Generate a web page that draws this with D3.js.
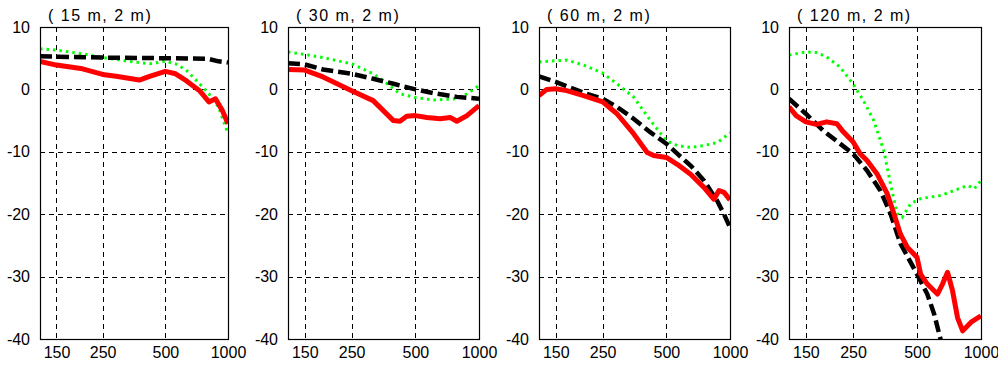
<!DOCTYPE html>
<html><head><meta charset="utf-8">
<script src="https://cdn.jsdelivr.net/npm/d3@7"></script>
<style>
html,body{margin:0;padding:0;background:#fff;}
svg{display:block;}
text{font-family:"Liberation Sans",Arial,sans-serif;font-size:16px;fill:#000;}
</style></head>
<body>
<svg id="c" width="998" height="365"></svg>
<script>
// ---- data ----
const panelTitles = ["( 15 m, 2 m)", "( 30 m, 2 m)", "( 60 m, 2 m)", "( 120 m, 2 m)"];
const xTicks = [150, 250, 500, 1000];
const yTicks = [10, 0, -10, -20, -30, -40];
const xDomain = [125, 1000];
const yDomain = [-40, 10];

// each series: [frequency, value]
const red1 = [[125,4.5],[150,3.9],[200,3.3],[250,2.4],[290,2.1],[375,1.5],[420,2.1],[500,2.9],[560,2.5],[630,1.4],[730,-0.2],[810,-2.0],[870,-1.5],[940,-3.4],[1000,-5.5]];
const black1 = [[125,5.3],[250,5.1],[500,5.0],[800,4.9],[900,4.5],[1000,4.3]];
const green1 = [[125,6.5],[150,6.3],[200,5.7],[250,5.1],[290,4.8],[350,4.4],[420,4.1],[500,4.5],[560,4.1],[630,3.1],[730,0.9],[810,-0.7],[900,-2.8],[1000,-7.1]];

const red2 = [[125,3.2],[150,3.1],[183,2.0],[250,-0.2],[316,-1.8],[394,-5.0],[423,-5.1],[455,-4.3],[500,-4.2],[567,-4.5],[655,-4.7],[731,-4.5],[786,-5.1],[877,-4.2],[1000,-2.6]];
const black2 = [[125,4.2],[150,4.0],[183,3.2],[250,2.5],[316,1.7],[394,0.9],[500,0.0],[609,-0.6],[786,-1.2],[1000,-1.5]];
const green2 = [[125,6.0],[150,5.6],[183,5.1],[250,4.1],[316,2.5],[353,1.4],[423,-0.7],[500,-1.3],[609,-1.7],[786,-1.5],[877,-0.7],[1000,0.6]];

const red3 = [[125,-1.0],[136,0],[150,0.1],[169,-0.2],[203,-1.0],[250,-2.0],[292,-3.9],[350,-7.1],[406,-10.1],[436,-10.6],[500,-10.9],[563,-12.0],[651,-13.6],[753,-15.7],[810,-17.0],[840,-17.6],[887,-16.2],[937,-16.5],[1000,-17.7]];
const black3 = [[125,2.1],[150,1.2],[175,0.3],[210,-0.7],[250,-1.5],[292,-2.8],[350,-4.7],[421,-6.9],[500,-8.7],[563,-10.3],[651,-12.2],[753,-14.6],[871,-17.9],[937,-20.0],[1000,-22.1]];
const green3 = [[125,4.4],[150,4.6],[169,4.7],[203,3.9],[250,2.6],[292,0.9],[350,-1.2],[421,-5.0],[500,-8.2],[563,-9.0],[651,-9.3],[753,-9.0],[871,-8.5],[1000,-7.0]];

const red4 = [[125,-2.8],[135,-4.2],[150,-5.2],[168,-5.6],[188,-5.2],[210,-5.5],[225,-6.8],[250,-8.4],[270,-10.3],[291,-11.4],[324,-13.5],[362,-16.7],[389,-19.9],[418,-23.2],[450,-25.3],[500,-26.9],[520,-29.6],[559,-31.2],[624,-32.8],[659,-31.2],[696,-29.3],[735,-32.3],[776,-36.6],[820,-38.7],[898,-37.3],[1000,-36.3]];
const black4 = [[125,-1.5],[150,-3.9],[181,-6.6],[250,-10.3],[291,-13.0],[336,-16.2],[375,-19.9],[418,-24.7],[500,-29.6],[559,-32.8],[602,-36.0],[647,-40.2],[680,-43]];
const green4 = [[125,5.5],[150,6.0],[168,5.9],[188,5.2],[217,3.6],[250,0.9],[280,-1.8],[313,-5.0],[349,-9.8],[375,-15.1],[403,-19.9],[426,-20.5],[467,-18.3],[520,-17.5],[647,-17.0],[748,-16.2],[866,-15.4],[931,-15.9],[1000,-14.6]];

const panelRed = [red1, red2, red3, red4];
const panelBlack = [black1, black2, black3, black4];
const panelGreen = [green1, green2, green3, green4];

// ---- layout ----
const lefts = [40, 288, 539, 789];
const rights = [228, 479, 730, 981];
const plotTop = 27, plotBottom = 339;

const svg = d3.select("#c");

panelTitles.forEach((title, i) => {
  const x = d3.scaleLog().domain(xDomain).range([lefts[i], rights[i]]);
  const y = d3.scaleLinear().domain(yDomain).range([plotBottom, plotTop]);
  const g = svg.append("g");

  g.append("clipPath").attr("id", "clip" + i)
    .append("rect").attr("x", lefts[i]).attr("y", plotTop)
    .attr("width", rights[i] - lefts[i]).attr("height", plotBottom - plotTop);

  // gridlines
  const grid = g.append("g").attr("stroke", "#000").attr("stroke-width", 1)
    .attr("stroke-dasharray", "5,4").attr("fill", "none");
  xTicks.filter(t => t < xDomain[1]).forEach(t => {
    const px = Math.round(x(t)) + 0.5;
    grid.append("line").attr("x1", px).attr("x2", px).attr("y1", plotTop).attr("y2", plotBottom);
  });
  yTicks.filter(t => t > yDomain[0] && t < yDomain[1]).forEach(t => {
    const py = Math.round(y(t)) + 0.5;
    grid.append("line").attr("x1", lefts[i]).attr("x2", rights[i]).attr("y1", py).attr("y2", py);
  });

  // series
  const line = d3.line().x(d => x(d[0])).y(d => y(d[1]));
  const series = g.append("g").attr("clip-path", "url(#clip" + i + ")").attr("fill", "none");
  series.append("path").datum(panelGreen[i]).attr("d", line)
    .attr("stroke", "#00ff00").attr("stroke-width", 3).attr("stroke-dasharray", "2.5,4");
  series.append("path").datum(panelBlack[i]).attr("d", line)
    .attr("stroke", "#000").attr("stroke-width", 4.5).attr("stroke-dasharray", "12,5");
  series.append("path").datum(panelRed[i]).attr("d", line)
    .attr("stroke", "#ff0000").attr("stroke-width", 5).attr("stroke-linejoin", "round");

  // frame
  g.append("rect").attr("x", lefts[i] + 0.5).attr("y", plotTop + 0.5)
    .attr("width", rights[i] - lefts[i]).attr("height", plotBottom - plotTop)
    .attr("fill", "none").attr("stroke", "#000").attr("stroke-width", 1.2);

  // axes labels
  const xAxis = d3.axisBottom(x).tickValues(xTicks).tickSize(0).tickPadding(8).tickFormat(d3.format("d"));
  const xa = g.append("g").attr("transform", `translate(0,${plotBottom})`).call(xAxis);
  xa.select(".domain").remove();
  xa.selectAll("text").attr("font-size", 16).attr("font-family", '"Liberation Sans",Arial,sans-serif').attr("fill", "#000");

  const yAxis = d3.axisLeft(y).tickValues(yTicks).tickSize(0).tickPadding(10).tickFormat(d3.format("d"));
  const ya = g.append("g").attr("transform", `translate(${lefts[i]},0)`).call(yAxis);
  ya.select(".domain").remove();
  ya.selectAll("text").attr("font-size", 16).attr("font-family", '"Liberation Sans",Arial,sans-serif').attr("fill", "#000")
    .text(d => d < 0 ? "-" + Math.abs(d) : d);

  g.append("text").attr("x", lefts[i] + 8).attr("y", 20.5)
    .attr("letter-spacing", "1.5px").text(title);
});
</script>
</body></html>
